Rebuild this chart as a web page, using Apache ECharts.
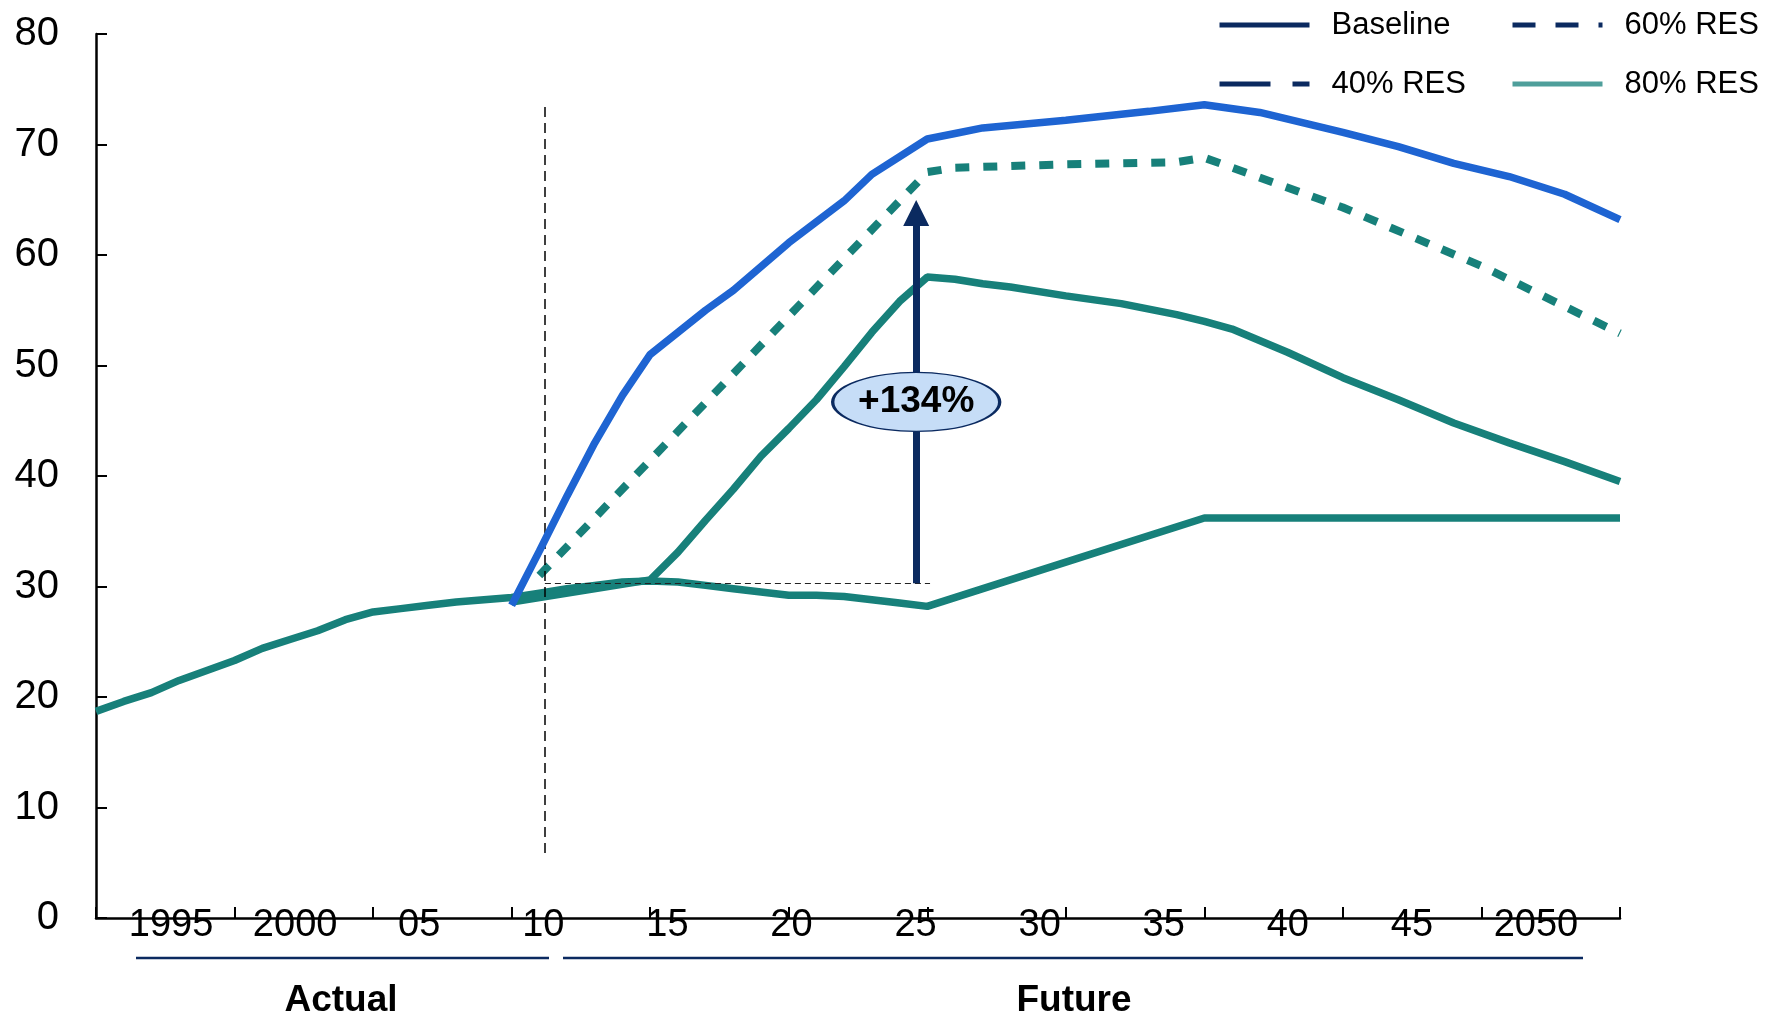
<!DOCTYPE html>
<html><head><meta charset="utf-8">
<script src="https://cdn.jsdelivr.net/npm/echarts@6/dist/echarts.min.js"></script>
<style>html,body{margin:0;padding:0;background:#fff}#c{width:1767px;height:1015px}</style>
</head><body><div id="c"></div><script>
// ---- data ----
const tickLabels = ['1995','2000','05','10','15','20','25','30','35','40','45','2050'];
const periodLabels = ['Actual','Future'];
const legendNames = ['Baseline','40% RES','60% RES','80% RES'];

const years80 = [1995,1996,1997,1998,1999,2000,2001,2002,2003,2004,2005,2006,2007,2008,2009,2010,2011,2012,2013,2014,2015,2016,2017,2018,2019,2020,2021,2022,2023,2024,2025,2030,2035,2050];
const values80 = [18.7,19.6,20.4,21.5,22.4,23.3,24.4,25.2,26.0,27.0,27.7,28.0,28.3,28.6,28.8,29.0,29.4,29.8,30.1,30.4,30.5,30.4,30.1,29.8,29.5,29.2,29.2,29.1,28.8,28.5,28.2,32.2,36.2,36.2];

const years60 = [2010,2015,2016,2017,2018,2019,2020,2021,2022,2023,2024,2025,2026,2027,2028,2030,2032,2034,2035,2036,2038,2040,2042,2044,2046,2048,2050];
const values60 = [28.6,30.6,33.1,36.0,38.8,41.8,44.3,46.9,49.9,53.0,55.8,58.0,57.8,57.4,57.1,56.3,55.6,54.6,54.0,53.3,51.2,48.9,46.9,44.8,43.0,41.3,39.5];

const years40 = [2011,2025,2026,2030,2034,2035,2040,2045,2050];
const values40 = [31.0,67.5,67.9,68.2,68.4,68.8,64.3,59.0,52.9];

const yearsBase = [2010,2011,2012,2013,2014,2015,2017,2018,2020,2022,2023,2025,2026,2027,2030,2033,2035,2037,2040,2042,2044,2046,2048,2050];
const valuesBase = [28.3,33.2,38.2,43.0,47.3,51.0,55.0,56.8,61.1,64.9,67.3,70.5,71.0,71.5,72.2,73.0,73.6,72.9,71.1,69.8,68.3,67.1,65.5,63.2];

// annotation values
const dividerYear = 2011.2;
const arrowYear = 2024.6;
const arrowFrom = 30.3;
const arrowTo = 63.8;
const changeLabel = '+134%';

// ---- styles ----
const NAVY = '#0b2a60', BLUE = '#1e64d2', TEAL = '#17807a', TEAL_LEG = '#4f9f9b', BUBBLE = '#c6ddf7';
const LW = 7.5;
const pairs = (xs, ys) => xs.map((x, i) => [x, ys[i]]);

const chart = echarts.init(document.getElementById('c'));
const legendText = {fontSize: 31, color: '#000', fontFamily: 'Liberation Sans', lineHeight: 32, padding: [0, 0, 0, 17]};
const legendCommon = {orient: 'vertical', top: 4, itemWidth: 90, itemHeight: 20, itemGap: 27,
  textStyle: legendText, itemStyle: {opacity: 0}, selectedMode: false};

chart.setOption({
  animation: false,
  backgroundColor: '#fff',
  grid: [
    {left: 96, right: 147, top: 34, bottom: 97},
    {left: 109, right: 169, top: 34, bottom: 97}
  ],
  legend: [
    Object.assign({left: 1212, data: [
      {name: legendNames[0], lineStyle: {color: NAVY, width: 5, type: 'solid'}},
      {name: legendNames[1], lineStyle: {color: NAVY, width: 5, type: [51, 22]}}
    ]}, legendCommon),
    Object.assign({left: 1505, data: [
      {name: legendNames[2], lineStyle: {color: NAVY, width: 5, type: [23, 20]}},
      {name: legendNames[3], lineStyle: {color: TEAL_LEG, width: 5, type: 'solid'}}
    ]}, legendCommon)
  ],
  xAxis: [
    {type: 'value', gridIndex: 0, min: 1995, max: 2050, interval: 5,
     axisLine: {show: true, lineStyle: {color: '#000', width: 2.5}},
     axisTick: {show: true, inside: true, length: 11, lineStyle: {color: '#000', width: 2}},
     axisLabel: {show: false}, splitLine: {show: false}},
    {type: 'category', gridIndex: 1, data: tickLabels, boundaryGap: true,
     axisLine: {show: false}, axisTick: {show: false}, splitLine: {show: false},
     axisLabel: {interval: 0, margin: 8, verticalAlign: 'middle', fontSize: 38,
       fontFamily: 'Liberation Sans', color: '#000'}}
  ],
  yAxis: [
    {type: 'value', gridIndex: 0, min: 0, max: 80, interval: 10,
     axisLine: {show: true, lineStyle: {color: '#000', width: 2.5}},
     axisTick: {show: true, inside: true, length: 11, lineStyle: {color: '#000', width: 2}},
     axisLabel: {fontSize: 40, margin: 37, color: '#000', fontFamily: 'Liberation Sans'},
     splitLine: {show: false}},
    {type: 'value', gridIndex: 1, show: false, min: 0, max: 80}
  ],
  series: [
    {name: legendNames[3], type: 'line', symbol: 'none', z: 2, data: pairs(years80, values80),
     lineStyle: {color: TEAL, width: LW}, itemStyle: {color: TEAL}},
    {name: legendNames[2], type: 'line', symbol: 'none', z: 3, data: pairs(years60, values60),
     lineStyle: {color: TEAL, width: LW}, itemStyle: {color: TEAL}},
    {name: legendNames[1], type: 'line', symbol: 'none', z: 4, data: pairs(years40, values40),
     lineStyle: {color: TEAL, width: 8, type: [14, 14]}, itemStyle: {color: TEAL}},
    {name: legendNames[0], type: 'line', symbol: 'none', z: 5, data: pairs(yearsBase, valuesBase),
     lineStyle: {color: BLUE, width: LW}, itemStyle: {color: BLUE}},
    {name: 'annotations', type: 'line', symbol: 'none', z: 10, data: [],
     markLine: {silent: true, symbol: 'none', label: {show: false}, animation: false,
       data: [
         [{coord: [dividerYear, 73.4], lineStyle: {color: '#000', width: 1.5, type: [10, 6]}}, {coord: [dividerYear, 5.6]}],
         [{coord: [dividerYear, arrowFrom], lineStyle: {color: '#222', width: 1.2, type: [6, 4]}}, {coord: [2025.1, arrowFrom]}],
         [{coord: [arrowYear, arrowFrom], symbol: 'none', lineStyle: {color: NAVY, width: 7, type: 'solid'}},
          {coord: [arrowYear, arrowTo], symbol: 'triangle', symbolSize: 26}]
       ]},
     markPoint: {silent: true, animation: false,
       symbol: 'path://M0 30 A84 30 0 1 1 168 30 A84 30 0 1 1 0 30 Z',
       symbolSize: [167, 59],
       itemStyle: {color: BUBBLE, borderColor: NAVY, borderWidth: 2},
       label: {show: true, position: 'inside', formatter: changeLabel, fontSize: 37, fontWeight: 'bold',
         color: '#000', fontFamily: 'Liberation Sans'},
       data: [{coord: [arrowYear, 46.7]}]}
    }
  ],
  graphic: [
    {type: 'line', shape: {x1: 136, y1: 958, x2: 549, y2: 958}, style: {stroke: NAVY, lineWidth: 2.5}},
    {type: 'line', shape: {x1: 563, y1: 958, x2: 1583, y2: 958}, style: {stroke: NAVY, lineWidth: 2.5}},
    {type: 'text', x: 341, y: 1001, style: {text: periodLabels[0], fontSize: 37, fontWeight: 'bold',
      fontFamily: 'Liberation Sans', fill: '#000', align: 'center', verticalAlign: 'middle'}},
    {type: 'text', x: 1074, y: 1001, style: {text: periodLabels[1], fontSize: 37, fontWeight: 'bold',
      fontFamily: 'Liberation Sans', fill: '#000', align: 'center', verticalAlign: 'middle'}}
  ]
});
</script></body></html>
